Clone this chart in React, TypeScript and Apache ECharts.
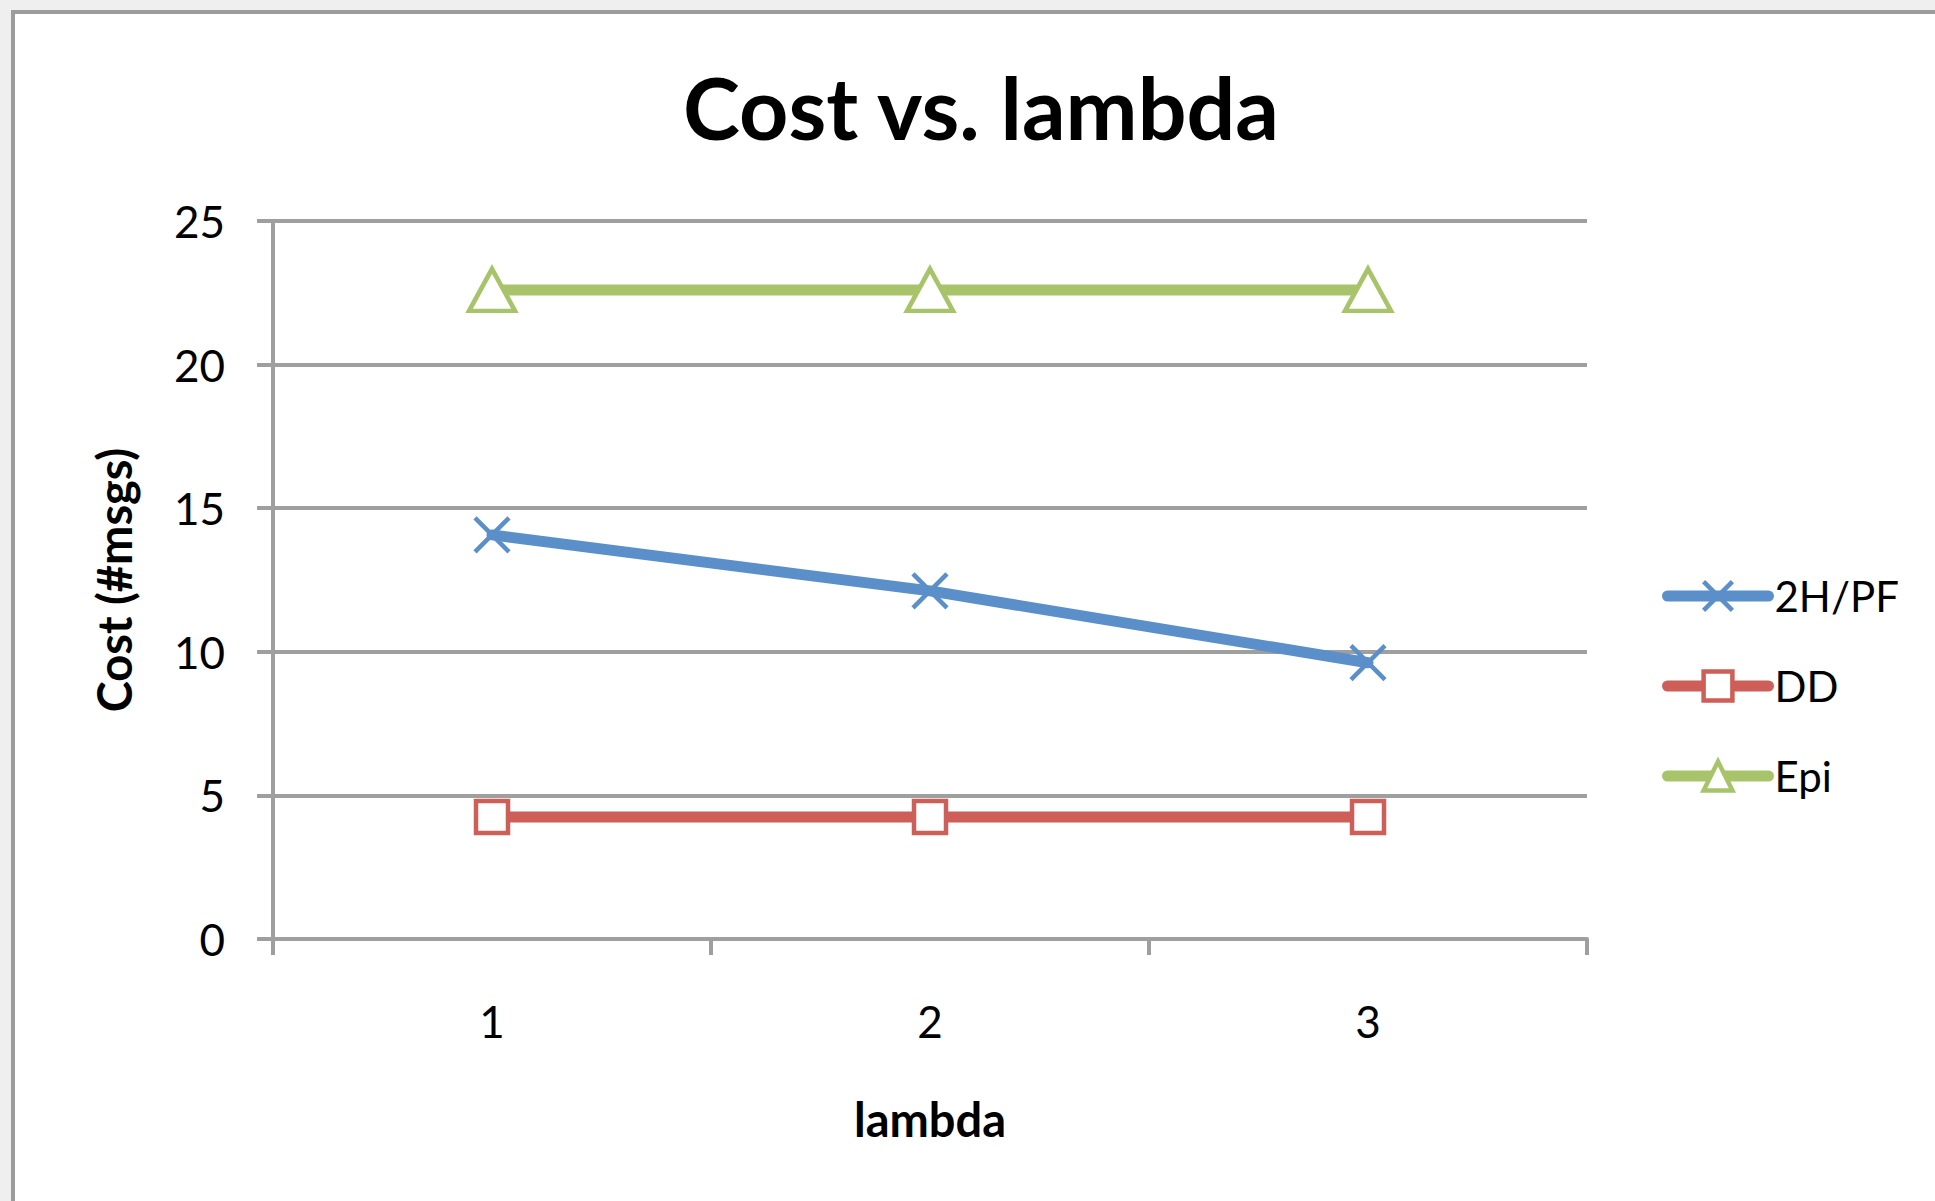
import React, { useEffect, useRef } from "react";
import * as echarts from "echarts";

// Chart data
const lambdaCategories = ["1", "2", "3"];
const seriesNames = ["2H/PF", "DD", "Epi"];
const costTwoHopPF = [14.07, 12.12, 9.62];
const costDD = [4.25, 4.25, 4.25];
const costEpi = [22.6, 22.6, 22.6];
const yTicks = { min: 0, max: 25, interval: 5 };

const FONT = "Lato";
const GRID_GRAY = "#9f9f9f";
const BLUE = "#5b8fc9";
const RED = "#cd5f58";
const GREEN = "#a8c46a";

const CROSS_PATH = "path://M0,0L10,10M10,0L0,10";

export default function App() {
  const ref = useRef<HTMLDivElement>(null);

  useEffect(() => {
    if (!ref.current) return;
    const chart = echarts.init(ref.current, undefined, { renderer: "svg" });

    const lineSeries = (name: string, data: number[], color: string, symbol: string, size: number | number[]) => ({
      name,
      type: "line",
      data,
      symbol,
      symbolSize: size,
      showSymbol: true,
      lineStyle: { color, width: 11, cap: "round" },
      itemStyle: { color: symbol === CROSS_PATH ? color : "#ffffff", borderColor: color, borderWidth: 4.5 },
      z: 3,
    });

    chart.setOption({
      animation: false,
      backgroundColor: "#efefef",
      textStyle: { fontFamily: FONT },
      graphic: [
        {
          type: "rect",
          shape: { x: 13, y: 12, width: 2000, height: 1300 },
          style: { fill: "#ffffff", stroke: "#9c9c9c", lineWidth: 4 },
          z: -10,
          silent: true,
        },
        {
          type: "text",
          x: 981,
          y: 149,
          style: {
            text: "Cost vs. lambda",
            font: `bold 86px ${FONT}`,
            fill: "#000000",
            textAlign: "center",
            textVerticalAlign: "bottom",
          },
        },
      ],
      grid: { left: 273, right: 348, top: 221, bottom: 262, containLabel: false },
      legend: {
        orient: "vertical",
        left: 1657,
        top: 570,
        itemWidth: 101,
        itemHeight: 36,
        itemGap: 48,
        data: seriesNames,
        lineStyle: { width: 11, cap: "round" },
        itemStyle: { borderWidth: 4.5 },
        textStyle: { fontFamily: FONT, fontSize: 42, color: "#000000", lineHeight: 36, padding: [0, 0, 0, 1] },
      },
      xAxis: {
        type: "category",
        data: lambdaCategories,
        boundaryGap: true,
        name: "lambda",
        nameLocation: "middle",
        nameGap: 156,
        nameTextStyle: { fontFamily: FONT, fontWeight: "bold", fontSize: 47, color: "#000000" },
        axisLine: { show: true, lineStyle: { color: GRID_GRAY, width: 4 } },
        axisTick: { show: true, length: 16, lineStyle: { color: GRID_GRAY, width: 4 } },
        axisLabel: { fontFamily: FONT, fontSize: 44, color: "#000000", margin: 60 },
        splitLine: { show: false },
      },
      yAxis: {
        type: "value",
        min: yTicks.min,
        max: yTicks.max,
        interval: yTicks.interval,
        name: "Cost (#msgs)",
        nameLocation: "middle",
        nameRotate: 90,
        nameGap: 136,
        nameTextStyle: { fontFamily: FONT, fontWeight: "bold", fontSize: 47, color: "#000000" },
        axisLine: { show: true, lineStyle: { color: GRID_GRAY, width: 4 } },
        axisTick: { show: true, length: 16, lineStyle: { color: GRID_GRAY, width: 4 } },
        axisLabel: { fontFamily: FONT, fontSize: 44, color: "#000000", margin: 48 },
        splitLine: { show: true, lineStyle: { color: GRID_GRAY, width: 4 } },
      },
      series: [
        lineSeries(seriesNames[0], costTwoHopPF, BLUE, CROSS_PATH, 34),
        lineSeries(seriesNames[1], costDD, RED, "rect", 32),
        lineSeries(seriesNames[2], costEpi, GREEN, "triangle", [46, 42]),
      ],
    });

    return () => chart.dispose();
  }, []);

  return (
    <div
      ref={ref}
      style={{ position: "fixed", left: 0, top: 0, width: 1935, height: 1201 }}
    />
  );
}
